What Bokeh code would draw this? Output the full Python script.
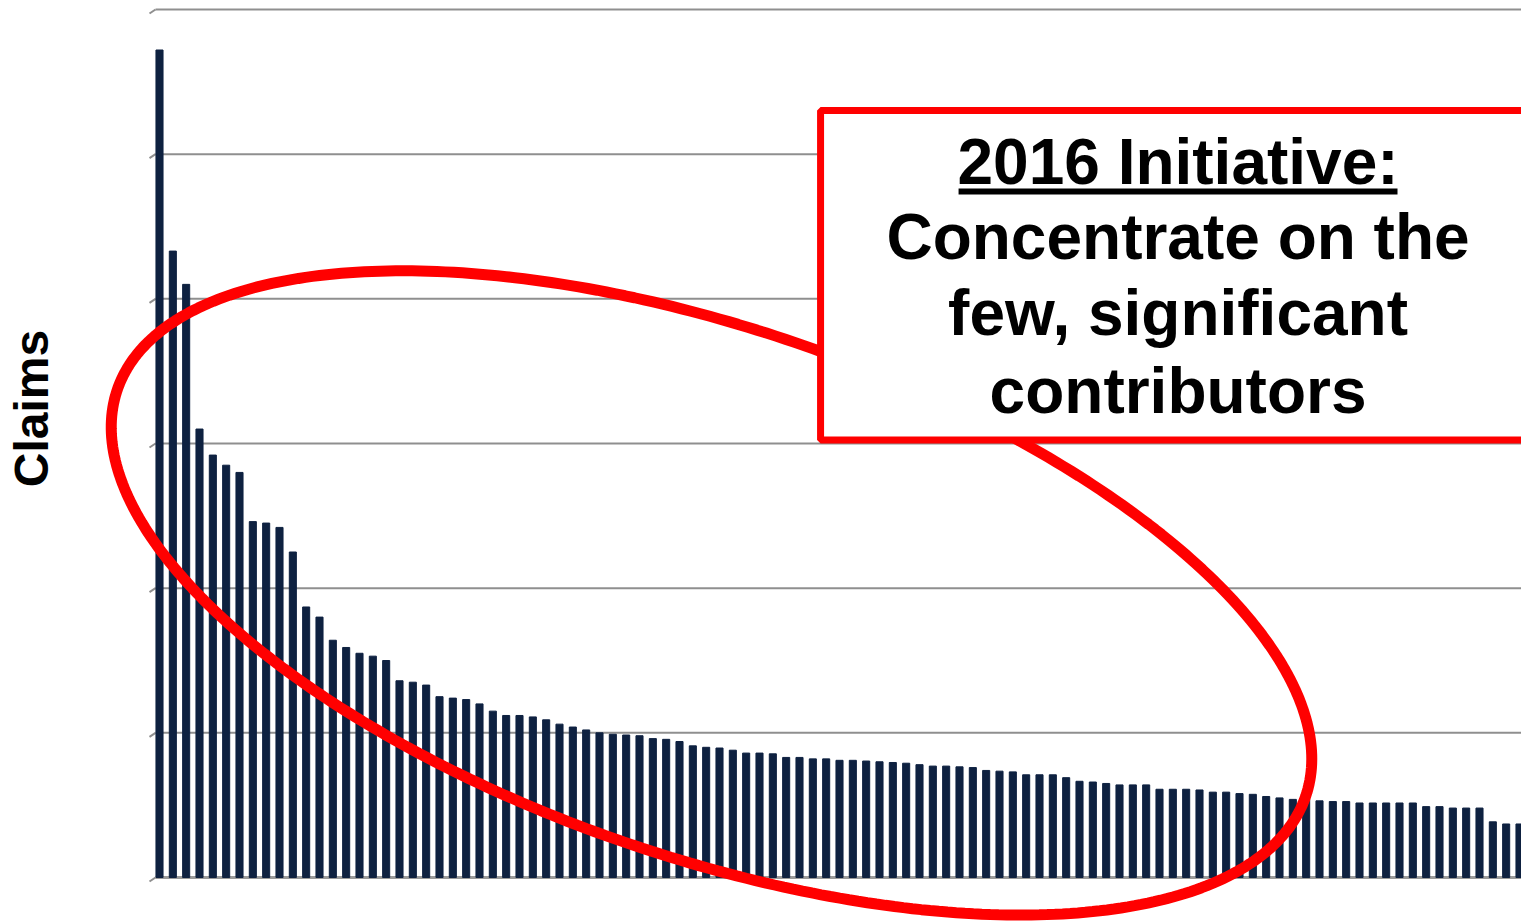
import numpy as np
from bokeh.plotting import figure
from bokeh.models import Range1d, BoxAnnotation, PolyAnnotation, Label
from bokeh.embed import file_html
from bokeh.resources import INLINE

# Claims per contributor, sorted from largest to smallest
contributors = list(range(103))
claims = [
    572, 433, 410, 310, 292, 285, 280, 246, 245, 242,
    225, 187, 180, 164, 159, 155, 153, 150, 136, 135,
    133, 125, 124, 123, 120, 115, 112, 112, 111, 109,
    106, 104, 102, 100, 99, 98.5, 98, 96, 95.5, 94,
    91, 90, 89.5, 88, 86, 86, 85.5, 83, 83, 82,
    82, 81, 81, 80.5, 80, 79.5, 79, 78, 77, 77,
    76.5, 76, 74, 73.5, 73, 71, 71, 71, 69, 66.5,
    66, 65, 64, 64, 64, 61, 61, 61, 60.5, 59,
    59, 58, 57.5, 56, 55, 54, 54, 53, 52.5, 52.5,
    51.5, 51.5, 51.5, 51.5, 51.5, 49, 49, 48, 48, 48,
    38.5, 37, 37,
]
grid_ticks = [0, 100, 200, 300, 400, 500, 600]

W, H = 1521, 922
# chart area inside the canvas (pixels) and the data span it shows
AREA_L, AREA_R, AREA_T, AREA_B = 155, 1521, 9, 877
ax0, ax1 = -0.3, 102.15
ay0, ay1 = 0, 600
sx = (AREA_R - AREA_L) / (ax1 - ax0)     # px per category
sy = (AREA_B - AREA_T) / (ay1 - ay0)     # px per claim

# the frame spans the whole canvas so the highlight can overlap the margins
x_range = Range1d(ax0 - AREA_L / sx, ax1 + (W - AREA_R) / sx)
y_range = Range1d(ay0 - (H - AREA_B) / sy, ay1 + AREA_T / sy)

p = figure(width=W, height=H, output_backend="svg", toolbar_location=None,
           x_range=x_range, y_range=y_range,
           min_border_left=0, min_border_right=0,
           min_border_top=0, min_border_bottom=0)
p.outline_line_color = None
p.background_fill_color = "white"
p.border_fill_color = "white"
p.axis.visible = False
p.grid.visible = False

# value grid, its small outside ticks and the base line
inner = [g for g in grid_ticks if g != 0]
p.segment(x0=[ax0] * len(inner), y0=inner, x1=[x_range.end] * len(inner), y1=inner,
          line_color="#8f8f8f", line_width=2)
p.segment(x0=[ax0 - 6 / sx] * len(grid_ticks), y0=[g - 4 / sy for g in grid_ticks],
          x1=[ax0] * len(grid_ticks), y1=grid_ticks,
          line_color="#8f8f8f", line_width=2)
p.segment(x0=[ax0], y0=[0], x1=[x_range.end], y1=[0],
          line_color="#9a9a9a", line_width=3)

p.vbar(x=contributors, top=claims, width=0.53, bottom=0, color="#0e2140")

# axis title
p.add_layout(Label(x=ax0 - 124 / sx, y=(AREA_B - 408) / sy, text="Claims",
                   angle=np.pi / 2, text_align="center", text_baseline="middle",
                   text_font="Liberation Sans", text_font_size="48px",
                   text_font_style="bold", text_color="black"))

# tilted ellipse around the head of the distribution
cx, cy = 41.4, 196.7          # centre in data units
a_px, b_px = 628, 264          # semi-axes in pixels
tilt = np.deg2rad(18.9)        # slopes down to the right
t = np.linspace(0, 2 * np.pi, 400)
ux = a_px * np.cos(t)
uy = b_px * np.sin(t)
dx = ux * np.cos(tilt) - uy * np.sin(tilt)
dy = ux * np.sin(tilt) + uy * np.cos(tilt)
ell_x = (cx + dx / sx).tolist()
ell_y = (cy - dy / sy).tolist()
p.add_layout(PolyAnnotation(xs=ell_x, ys=ell_y, line_color="#ff0000",
                            line_width=11, line_alpha=1,
                            fill_color=None, fill_alpha=0))

# call-out box
p.add_layout(BoxAnnotation(left=49.58, right=115, top=530.2, bottom=302.4,
                           fill_color="white", fill_alpha=1,
                           line_color="#ff0000", line_width=7, line_alpha=1))

lines = ["2016 Initiative:", "Concentrate on the", "few, significant", "contributors"]
baselines = [494.9, 442.4, 389.9, 336.6]
for txt, yb in zip(lines, baselines):
    p.add_layout(Label(x=76.39, y=yb, text=txt, text_align="center",
                       text_baseline="alphabetic", text_font="Liberation Sans",
                       text_font_size="64px", text_font_style="bold",
                       text_color="black"))

# underline of the heading
p.add_layout(BoxAnnotation(left=59.93, right=92.85, top=476.3, bottom=472.2,
                           fill_color="black", fill_alpha=1, line_color=None))

open("out.html", "w").write(file_html(p, INLINE))
